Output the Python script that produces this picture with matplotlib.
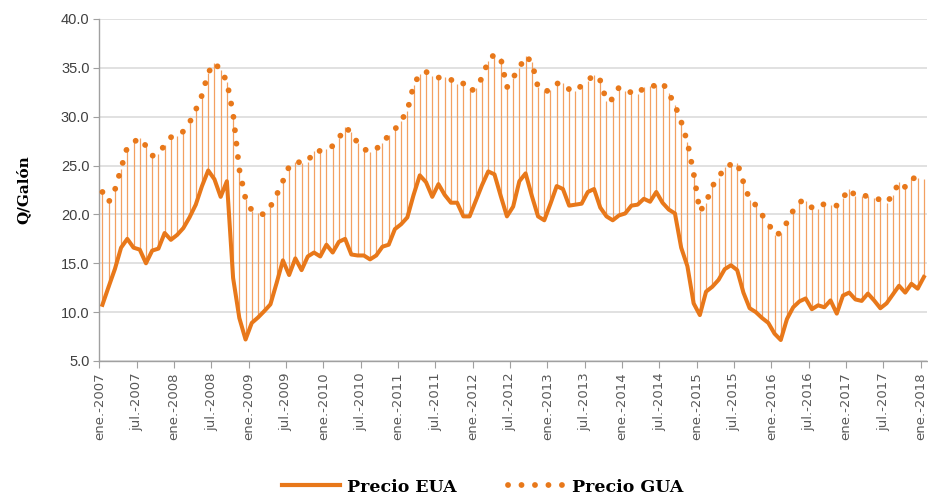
import matplotlib
matplotlib.use("Agg")
import matplotlib.pyplot as plt
from matplotlib.lines import Line2D
import numpy as np

# precios mensuales ene-2007 .. ene-2018 (Q/galón)
precio_eua = [
    10.75, 12.6, 14.4, 16.6, 17.5, 16.6, 16.4, 15.0, 16.3, 16.5, 18.1, 17.4,
    17.9, 18.6, 19.7, 21.0, 22.9, 24.5, 23.6, 21.8, 23.4, 13.5, 9.4, 7.2,
    8.9, 9.45, 10.1, 10.8, 13.0, 15.3, 13.8, 15.5, 14.3, 15.7, 16.1, 15.7,
    16.9, 16.1, 17.2, 17.5, 15.9, 15.8, 15.8, 15.4, 15.8, 16.7, 16.9, 18.5,
    19.0, 19.7, 22.0, 24.0, 23.3, 21.8, 23.1, 22.0, 21.2, 21.2, 19.8, 19.8,
    21.4, 23.0, 24.4, 24.1, 21.9, 19.8, 20.8, 23.4, 24.2, 21.9, 19.8, 19.4,
    21.1, 22.9, 22.6, 20.9, 21.0, 21.1, 22.3, 22.6, 20.7, 19.8, 19.4, 19.9,
    20.1, 20.9, 21.0, 21.6, 21.3, 22.3, 21.2, 20.5, 20.1, 16.6, 14.7, 10.9,
    9.7, 12.1, 12.6, 13.3, 14.4, 14.8, 14.3, 12.0, 10.4, 10.0, 9.4, 8.9,
    7.8, 7.15, 9.3, 10.5, 11.1, 11.4, 10.3, 10.7, 10.5, 11.2, 9.85, 11.7,
    12.0, 11.3, 11.15, 11.9, 11.2, 10.4, 10.9, 11.8, 12.7, 12.0, 12.9, 12.4,
    13.6,
]
precio_gua = [
    22.3, 21.25, 22.5, 24.7, 26.9, 27.4, 27.8, 27.0, 26.0, 26.2, 27.1, 27.9,
    28.0, 28.5, 29.4, 30.7, 32.2, 34.5, 35.5, 34.8, 33.6, 30.3, 24.6, 21.6,
    20.4, 20.1, 20.0, 20.8, 22.0, 23.4, 24.9, 25.4, 25.3, 25.4, 26.5, 26.5,
    26.7, 27.0, 27.8, 28.9, 28.4, 27.3, 26.7, 26.4, 26.7, 27.3, 28.1, 28.7,
    29.6, 30.6, 33.2, 34.4, 34.6, 34.2, 34.0, 34.1, 33.8, 33.3, 33.4, 32.6,
    32.9, 34.0, 35.7, 36.4, 36.0, 33.0, 34.0, 35.0, 36.2, 35.6, 33.0, 32.6,
    32.7, 33.4, 33.4, 32.8, 32.6, 33.2, 33.7, 34.3, 33.7, 31.6, 31.8, 33.0,
    32.6, 32.5, 32.3, 33.0, 33.1, 33.2, 33.5, 32.4, 31.2, 29.5, 27.4, 24.2,
    20.3, 21.2, 22.9, 23.7, 24.9, 25.1, 25.3, 23.3, 21.5, 20.95, 19.95, 19.1,
    17.9, 18.1, 19.2, 20.4, 21.3, 21.4, 20.7, 20.6, 21.1, 21.0, 20.9, 21.7,
    22.6, 21.9, 21.9, 21.9, 21.7, 21.5, 21.2, 22.0, 23.3, 22.8, 23.7, 23.7,
    23.6,
]
anios = list(range(2007, 2019))
meses_etiqueta = ["ene.", "jul."]

NARANJA = "#E8781A"
NARANJA_CLARO = "#F3A061"
GRIS_TXT = "#404040"
PUNTOS = (0, (0.01, 2.3))

x = np.arange(len(precio_eua))
etiquetas = []
for a in anios:
    for m in meses_etiqueta:
        etiquetas.append(f"{m}-{a}")
etiquetas = etiquetas[:len(x) // 6 + 1]
pos_ticks = np.arange(len(etiquetas)) * 6 - 0.5

fig = plt.figure(figsize=(9.29, 4.99), dpi=100)
ax = fig.add_axes([99.3 / 929, 1 - 361 / 499, (927 - 99.3) / 929, (361 - 19) / 499])

# lineas verticales entre ambos precios
ax.vlines(x, precio_eua, precio_gua, color=NARANJA_CLARO, lw=0.9, zorder=2)
ax.plot(x, precio_eua, color=NARANJA, lw=2.9, solid_joinstyle="round", zorder=3)
ax.plot(x, precio_gua, color=NARANJA, lw=4.2, linestyle=PUNTOS,
        dash_capstyle="round", zorder=3)

ax.set_xlim(-0.5, len(x) - 0.5)
ax.set_ylim(5, 40)
ax.set_yticks(np.arange(5, 40.1, 5))
ax.set_yticklabels([f"{v:.1f}" for v in np.arange(5, 40.1, 5)],
                   fontsize=10.5, color=GRIS_TXT, family="Liberation Sans")
ax.set_xticks(pos_ticks)
ax.set_xticklabels(etiquetas, rotation=90, fontsize=9.5, color="#595959",
                   family="DejaVu Sans")
ax.tick_params(axis="x", direction="out", length=5, color="#A0A0A0", pad=3)
ax.tick_params(axis="y", direction="out", length=4, color="#A0A0A0", pad=3)

ax.grid(axis="y", color="#D9D9D9", lw=1.1, zorder=0)
ax.set_axisbelow(True)
for s in ["top", "right"]:
    ax.spines[s].set_visible(False)
for s in ["left", "bottom"]:
    ax.spines[s].set_color("#A0A0A0")
    ax.spines[s].set_linewidth(1.0)

ax.set_ylabel("Q/Galón", fontsize=11, fontweight="bold", family="DejaVu Serif",
              color="black", labelpad=22)

handles = [
    Line2D([], [], color=NARANJA, lw=3.0),
    Line2D([], [], color=NARANJA, lw=4.2, linestyle=PUNTOS,
           dash_capstyle="round"),
]
fig.legend(handles, ["Precio EUA", "Precio GUA"], loc="center",
           bbox_to_anchor=(0.52, 1 - 487 / 499), ncol=2, frameon=False,
           prop={"family": "DejaVu Serif", "weight": "bold", "size": 12.5},
           handlelength=3.3, columnspacing=3.0, handletextpad=0.4)

fig.savefig("out.png", dpi=100)
